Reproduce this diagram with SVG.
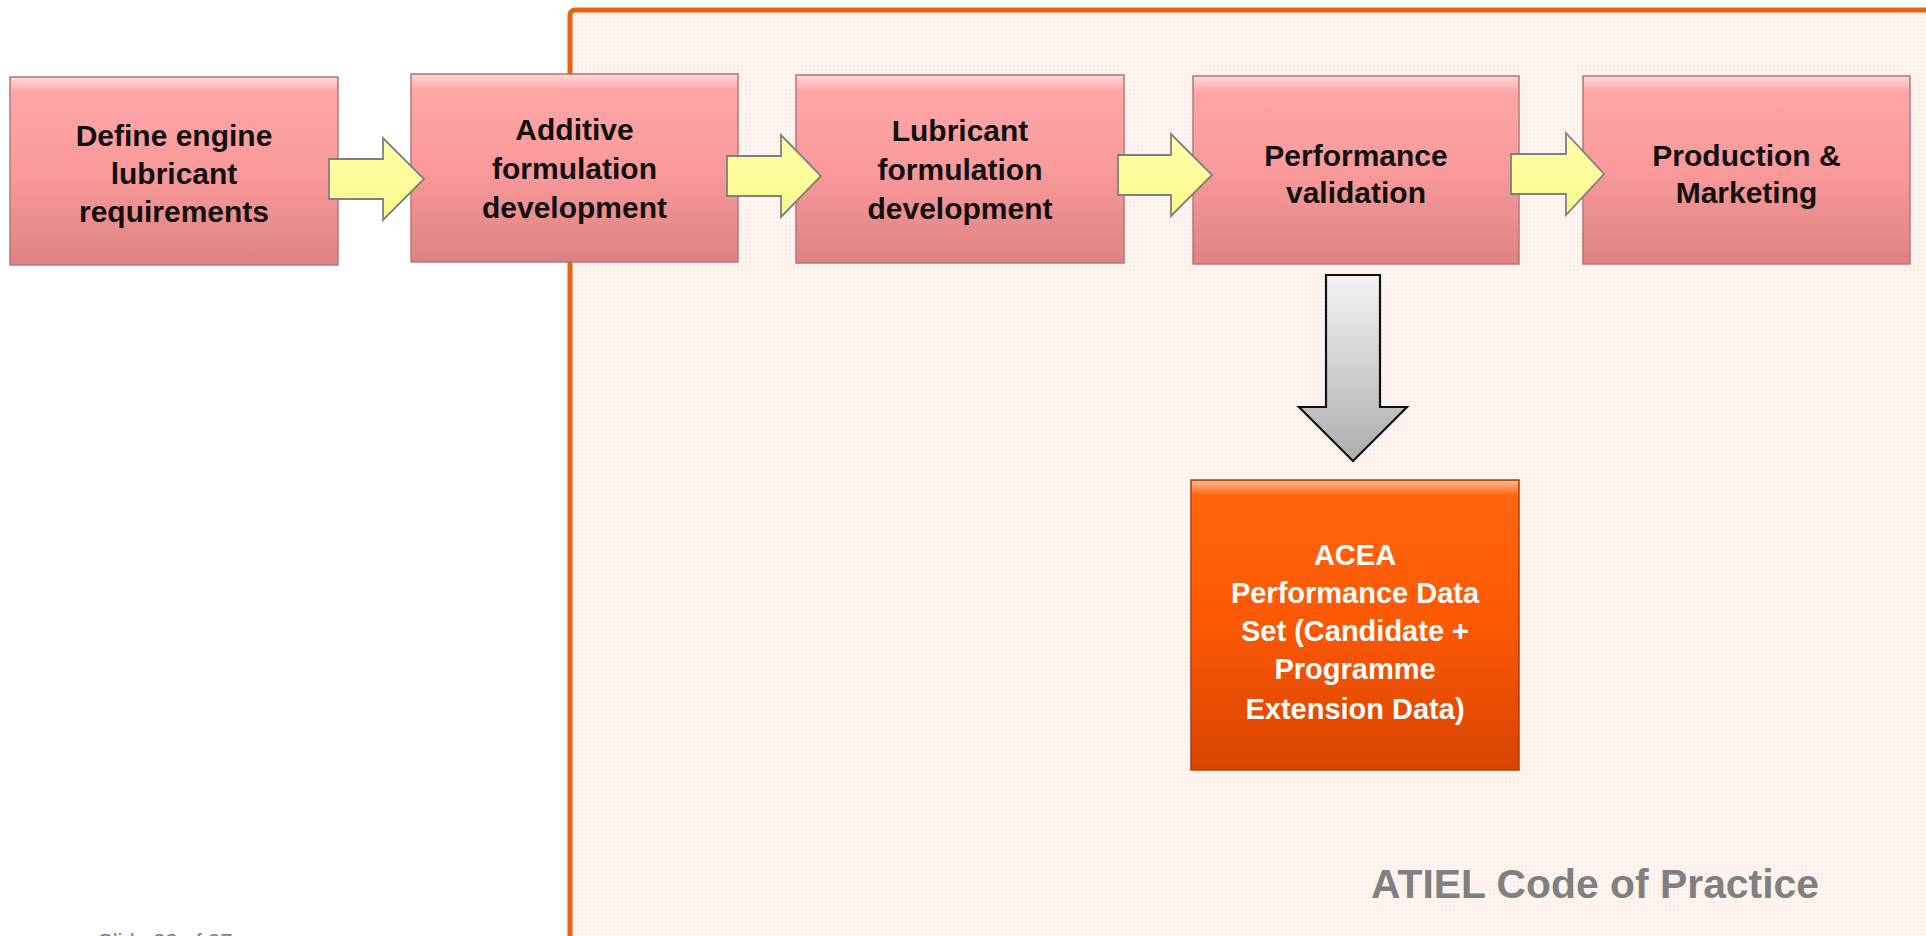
<svg xmlns="http://www.w3.org/2000/svg" width="1926" height="936" viewBox="0 0 1926 936">
<defs>
  <pattern id="dots" width="4" height="4" patternUnits="userSpaceOnUse">
    <rect width="4" height="4" fill="#FEF5F0"/>
    <rect x="1" y="1" width="1.5" height="1.5" fill="#F9E6DC"/>
  </pattern>
  <linearGradient id="redG" x1="0" y1="0" x2="0" y2="1">
    <stop offset="0" stop-color="#FFA9A9"/>
    <stop offset="0.5" stop-color="#FA9A9A"/>
    <stop offset="1" stop-color="#DD8282"/>
  </linearGradient>
  <linearGradient id="bevel" x1="0" y1="0" x2="0" y2="1">
    <stop offset="0" stop-color="#FFFFFF" stop-opacity="0.55"/>
    <stop offset="1" stop-color="#FFFFFF" stop-opacity="0"/>
  </linearGradient>
  <linearGradient id="orangeG" x1="0" y1="0" x2="0" y2="1">
    <stop offset="0" stop-color="#FF6610"/>
    <stop offset="0.45" stop-color="#FE5A05"/>
    <stop offset="1" stop-color="#D84400"/>
  </linearGradient>
  <linearGradient id="yellowG" x1="0" y1="0" x2="0" y2="1">
    <stop offset="0" stop-color="#FFFFA8"/>
    <stop offset="1" stop-color="#F8F88E"/>
  </linearGradient>
  <linearGradient id="grayG" x1="0" y1="0" x2="0" y2="1">
    <stop offset="0" stop-color="#F4F4F4"/>
    <stop offset="1" stop-color="#ADADAD"/>
  </linearGradient>
  <style>
    .box { fill: url(#redG); stroke: #B77777; stroke-width: 1.5; }
    .bev { fill: url(#bevel); }
    .lbl { font-family: "Liberation Sans", Arial, sans-serif; font-weight: bold; font-size: 30px; fill: #111111; text-anchor: middle; }
    .wlbl { font-family: "Liberation Sans", Arial, sans-serif; font-weight: bold; font-size: 29px; fill: #FFFFFF; text-anchor: middle; }
    .rarrow { fill: url(#yellowG); stroke: #7F7F7F; stroke-width: 1.8; stroke-linejoin: miter; }
    .darrow { fill: url(#grayG); stroke: #111111; stroke-width: 2.2; stroke-linejoin: miter; }
  </style>
</defs>

<rect x="0" y="0" width="1926" height="936" fill="#FFFFFF"/>

<g id="frame">
  <rect x="570" y="10" width="1420" height="1000" rx="5" fill="url(#dots)" stroke="#E8640C" stroke-width="5"/>
  <text x="1371" y="898" font-family="Liberation Sans, Arial, sans-serif" font-weight="bold" font-size="40" fill="#808080" textLength="448" lengthAdjust="spacingAndGlyphs">ATIEL Code of Practice</text>
</g>

<g id="node1">
  <rect class="box" x="10" y="77" width="328" height="188"/>
  <rect class="bev" x="11" y="78" width="326" height="14"/>
  <text class="lbl" x="174" y="146">Define engine</text>
  <text class="lbl" x="174" y="184">lubricant</text>
  <text class="lbl" x="174" y="222">requirements</text>
</g>

<g id="node2">
  <rect class="box" x="411" y="74" width="327" height="188"/>
  <rect class="bev" x="412" y="75" width="325" height="14"/>
  <text class="lbl" x="574.5" y="140">Additive</text>
  <text class="lbl" x="574.5" y="179">formulation</text>
  <text class="lbl" x="574.5" y="218">development</text>
</g>

<g id="node3">
  <rect class="box" x="796" y="75" width="328" height="188"/>
  <rect class="bev" x="797" y="76" width="326" height="14"/>
  <text class="lbl" x="960" y="141">Lubricant</text>
  <text class="lbl" x="960" y="180">formulation</text>
  <text class="lbl" x="960" y="219">development</text>
</g>

<g id="node4">
  <rect class="box" x="1193" y="76" width="326" height="188"/>
  <rect class="bev" x="1194" y="77" width="324" height="14"/>
  <text class="lbl" x="1356" y="166">Performance</text>
  <text class="lbl" x="1356" y="203">validation</text>
</g>

<g id="node5">
  <rect class="box" x="1583" y="76" width="327" height="188"/>
  <rect class="bev" x="1584" y="77" width="325" height="14"/>
  <text class="lbl" x="1746.5" y="166">Production &amp;</text>
  <text class="lbl" x="1746.5" y="203">Marketing</text>
</g>

<g id="node6">
  <rect x="1191" y="480" width="328" height="290" fill="url(#orangeG)" stroke="#A8420E" stroke-width="1.5"/>
  <rect class="bev" x="1192" y="481" width="326" height="14"/>
  <text class="wlbl" x="1355" y="565">ACEA</text>
  <text class="wlbl" x="1355" y="603">Performance Data</text>
  <text class="wlbl" x="1355" y="641">Set (Candidate +</text>
  <text class="wlbl" x="1355" y="679">Programme</text>
  <text class="wlbl" x="1355" y="719">Extension Data)</text>
</g>

<g id="connectors">
  <polygon class="rarrow" points="329,159 383,159 383,138 424,179 383,220 383,199 329,199"/>
  <polygon class="rarrow" points="727,156 781,156 781,135 821,176 781,217 781,196 727,196"/>
  <polygon class="rarrow" points="1118,155 1171,155 1171,134 1212,175 1171,216 1171,195 1118,195"/>
  <polygon class="rarrow" points="1511,154 1566,154 1566,133 1604,174 1566,215 1566,194 1511,194"/>
  <polygon class="darrow" points="1326,275 1380,275 1380,407 1407,407 1353,461 1299,407 1326,407"/>
</g>

<text x="98" y="949" font-family="Liberation Sans, Arial, sans-serif" font-size="22" fill="#7F7F7F">Slide 22 of 37</text>
</svg>
